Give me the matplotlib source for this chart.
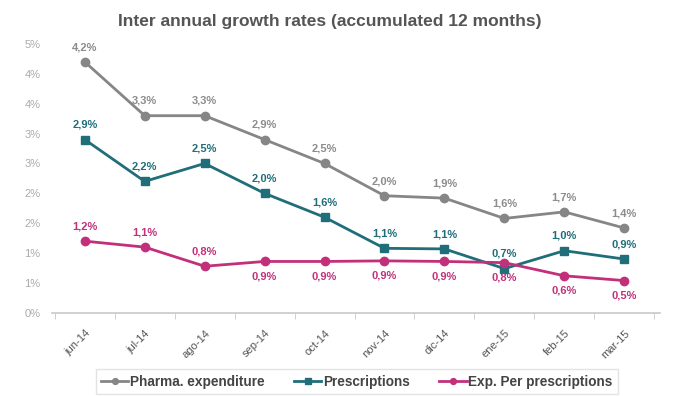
import matplotlib.pyplot as plt

plt.rcParams['font.family'] = ['Liberation Sans', 'DejaVu Sans']

# Data
months = ['jun-14', 'jul-14', 'ago-14', 'sep-14', 'oct-14', 'nov-14',
          'dic-14', 'ene-15', 'feb-15', 'mar-15']
pharma = [4.2, 3.3, 3.3, 2.9, 2.5, 1.96, 1.92, 1.58, 1.69, 1.42]
prescriptions = [2.9, 2.2, 2.5, 2.0, 1.6, 1.08, 1.07, 0.74, 1.04, 0.9]
exp_per_presc = [1.2, 1.1, 0.78, 0.86, 0.86, 0.87, 0.86, 0.84, 0.62, 0.54]
y_ticks = [0, 0.5, 1.0, 1.5, 2.0, 2.5, 3.0, 3.5, 4.0, 4.5]
y_tick_labels = ['0%', '1%', '1%', '2%', '2%', '3%', '3%', '4%', '4%', '5%']

grey = '#868686'
teal = '#1f6e79'
pink = '#c2307c'

fig = plt.figure(figsize=(6.73, 3.96), dpi=100)
ax = fig.add_axes([0.077, 0.21, 0.904, 0.694])
x = range(len(months))

ax.plot(x, pharma, color=grey, lw=2, marker='o', ms=6, label='Pharma. expenditure')
ax.plot(x, prescriptions, color=teal, lw=2, marker='s', ms=6, label='Prescriptions')
ax.plot(x, exp_per_presc, color=pink, lw=2, marker='o', ms=6, label='Exp. Per prescriptions')

def lab(v):
    return f'{v:.1f}%'.replace('.', ',')

for i, v in enumerate(pharma):
    ax.annotate(lab(v), (i, v), xytext=(0, 7), textcoords='offset points',
                ha='center', va='bottom', fontsize=8, fontweight='bold', color='#8c8c8c')
for i, v in enumerate(prescriptions):
    ax.annotate(lab(v), (i, v), xytext=(0, 7), textcoords='offset points',
                ha='center', va='bottom', fontsize=8, fontweight='bold', color=teal)
for i, v in enumerate(exp_per_presc):
    below = i >= 3
    ax.annotate(lab(v), (i, v), xytext=(0, -7 if below else 7), textcoords='offset points',
                ha='center', va='top' if below else 'bottom',
                fontsize=8, fontweight='bold', color=pink)

ax.set_xlim(-0.55, 9.6)
ax.set_ylim(0, 4.6)
ax.set_yticks(y_ticks)
ax.set_yticklabels(y_tick_labels)
ax.tick_params(axis='y', length=0, labelsize=8, labelcolor='#aaaaaa', pad=8)

ax.set_xticks(list(x))
ax.set_xticklabels(months, rotation=45, ha='right', rotation_mode='anchor')
ax.tick_params(axis='x', length=0, labelsize=8, labelcolor='#555555', pad=11)
ax.set_xticks([i + 0.5 for i in range(-1, 10)], minor=True)
ax.tick_params(axis='x', which='minor', length=4, color='#c8c8c8')

for s in ['top', 'right', 'left']:
    ax.spines[s].set_visible(False)
ax.spines['bottom'].set_color('#c8c8c8')
ax.spines['bottom'].set_linewidth(1.2)

fig.text(0.49, 0.945, 'Inter annual growth rates (accumulated 12 months)',
         ha='center', va='center', fontsize=12.5, fontweight='bold', color='#555555')

leg = fig.legend(loc='lower center', bbox_to_anchor=(0.53, -0.012), ncol=3,
                 frameon=True, fancybox=False, edgecolor='#dddddd',
                 prop={'size': 9.8, 'weight': 'bold'}, handlelength=2.0,
                 handletextpad=0.1, columnspacing=2.2, markerscale=0.7)
for t in leg.get_texts():
    t.set_color('#444444')

fig.savefig('out.png', dpi=100)
